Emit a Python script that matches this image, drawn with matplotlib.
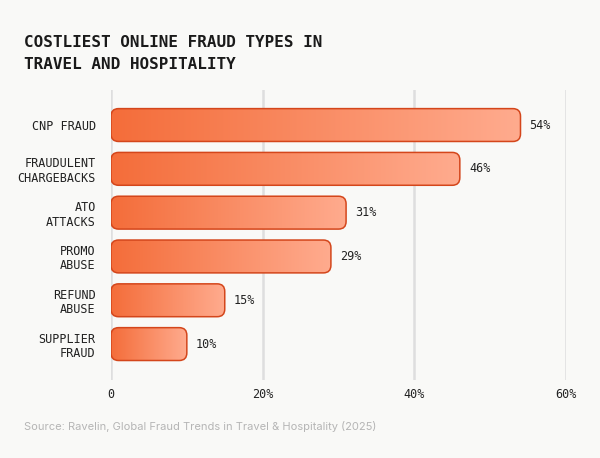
import matplotlib.pyplot as plt
import numpy as np
from matplotlib.patches import FancyBboxPatch
from matplotlib.colors import LinearSegmentedColormap

categories = ['CNP FRAUD', 'FRAUDULENT\nCHARGEBACKS', 'ATO\nATTACKS',
              'PROMO\nABUSE', 'REFUND\nABUSE', 'SUPPLIER\nFRAUD']
values = [54, 46, 31, 29, 15, 10]
xticks = [0, 20, 40, 60]
xtick_labels = ['0', '20%', '40%', '60%']

BG = '#f9f9f7'
MONO = 'DejaVu Sans Mono'
cmap = LinearSegmentedColormap.from_list('bar', ['#f46d3a', '#ffab8e'])

fig = plt.figure(figsize=(6, 4.58), dpi=100, facecolor=BG)
ax = fig.add_axes([111 / 600, 1 - 380 / 458, 455 / 600, 290 / 458])
ax.set_facecolor(BG)
ylim = (5.82, -0.80)

for x in xticks:
    ax.axvline(x, color='#dedede', lw=1.8, zorder=0)

h = 0.75
grad = np.linspace(0, 1, 256).reshape(1, -1)
# y-units per px / x-units per px, so the corners stay round
aspect = ((ylim[0] - ylim[1]) / 290) / (60 / 455)
for i, v in enumerate(values):
    patch = FancyBboxPatch((0, i - h / 2), v, h,
                           boxstyle='round,pad=0,rounding_size=1.0',
                           mutation_aspect=aspect,
                           facecolor='none', edgecolor='#d4461b', lw=1.1, zorder=3)
    ax.add_patch(patch)
    im = ax.imshow(grad, cmap=cmap, aspect='auto', extent=(0, v, i + h / 2, i - h / 2),
                   zorder=2)
    im.set_clip_path(patch)
    ax.text(v + 1.2, i, f'{v}%', va='center', ha='left', fontsize=8.5,
            family=MONO, color='#222222')

ax.set_xlim(0, 60)
ax.set_ylim(*ylim)
ax.set_yticks(range(len(categories)))
ax.set_yticklabels(categories, family=MONO, fontsize=8.5, color='#222222',
                   linespacing=1.15)
ax.set_xticks(xticks)
ax.set_xticklabels(xtick_labels, family=MONO, fontsize=8.5, color='#222222')
ax.tick_params(length=0, axis='y', pad=11)
ax.tick_params(length=0, axis='x', pad=6)
for s in ax.spines.values():
    s.set_visible(False)

fig.text(24 / 600, 1 - 53.5 / 458, 'COSTLIEST ONLINE FRAUD TYPES IN\nTRAVEL AND HOSPITALITY',
         family=MONO, fontweight='bold', fontsize=11.5, color='#1a1a1a',
         va='center', ha='left', linespacing=1.55)
fig.text(24 / 600, 1 - 426 / 458,
         'Source: Ravelin, Global Fraud Trends in Travel & Hospitality (2025)',
         family='Inter', fontsize=8, color='#b5b5b5', va='center', ha='left')

fig.savefig('out.png', dpi=100, facecolor=BG)
